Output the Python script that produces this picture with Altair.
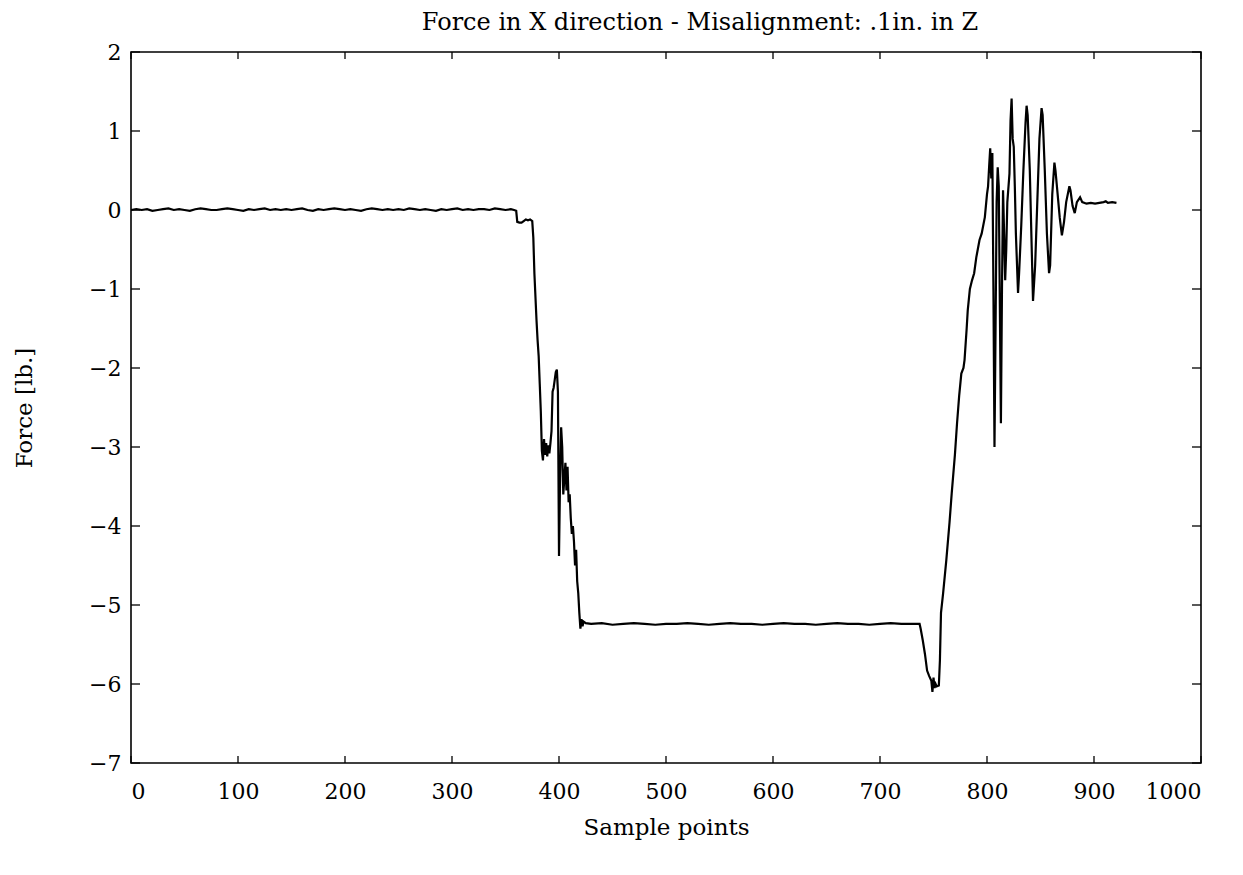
import altair as alt
import pandas as pd

# ---- data ----
flat0_x = list(range(0, 360, 5))
flat0_y = [0.00, 0.01, 0.00, 0.01, -0.01, 0.00, 0.01, 0.02, 0.00, 0.01,
           0.00, -0.01, 0.01, 0.02, 0.01, 0.00, 0.00, 0.01, 0.02, 0.01,
           0.00, -0.01, 0.01, 0.00, 0.01, 0.02, 0.00, 0.01, 0.00, 0.01,
           0.00, 0.01, 0.02, 0.00, -0.01, 0.01, 0.00, 0.01, 0.02, 0.01,
           0.00, 0.01, 0.00, -0.01, 0.01, 0.02, 0.01, 0.00, 0.01, 0.00,
           0.01, 0.00, 0.02, 0.01, 0.00, 0.01, 0.00, -0.01, 0.01, 0.00,
           0.01, 0.02, 0.00, 0.01, 0.00, 0.01, 0.01, 0.00, 0.02, 0.01,
           0.00, 0.01]

drop_x = [358, 360, 361, 363, 365, 367, 369, 371, 373, 375, 376, 377, 379, 380,
          381, 382, 383, 384, 385, 386, 387, 388, 389, 390, 391, 392, 393, 394,
          395, 396, 397, 398, 399, 400, 401, 402, 403, 404, 405, 406, 407, 408,
          409, 410, 411, 412, 413, 414, 415, 416, 417, 418, 419, 420, 421, 422,
          423, 425]
drop_y = [0.00, -0.01, -0.15, -0.16, -0.16, -0.14, -0.12, -0.13, -0.12, -0.14,
          -0.35, -0.80, -1.40, -1.65, -1.85, -2.20, -2.55, -3.05, -3.17, -2.90,
          -3.10, -2.95, -3.12, -2.98, -3.08, -2.95, -2.80, -2.30, -2.25, -2.15,
          -2.05, -2.02, -2.30, -4.38, -3.40, -2.75, -3.00, -3.60, -3.40, -3.20,
          -3.55, -3.25, -3.70, -3.60, -3.90, -4.10, -4.00, -4.20, -4.50, -4.30,
          -4.70, -4.85, -5.10, -5.30, -5.18, -5.27, -5.21, -5.23]

flat5_x = list(range(430, 736, 10))
flat5_y = [-5.24, -5.23, -5.25, -5.24, -5.23, -5.24, -5.25, -5.24, -5.24, -5.23,
           -5.24, -5.25, -5.24, -5.23, -5.24, -5.24, -5.25, -5.24, -5.23, -5.24,
           -5.24, -5.25, -5.24, -5.23, -5.24, -5.24, -5.25, -5.24, -5.23, -5.24,
           -5.24]

rise_x = [737, 738, 740, 742, 744, 746, 748, 749, 750, 751, 752, 753, 755, 756,
          757, 759, 762, 765, 767, 770, 772, 774, 776, 778, 779, 781, 782, 784,
          786, 788, 790, 793, 795, 798, 800, 801, 802, 803, 804, 805, 806, 807,
          808, 809, 810, 811, 812, 813, 814, 815, 816, 817, 818, 819, 821, 822,
          823, 824, 825, 826, 827, 829, 830, 832, 834, 836, 837, 838, 840, 842,
          843, 845, 847, 849, 851, 852, 854, 856, 858, 859, 861, 863, 864, 866,
          868, 870, 872, 874, 877, 878, 880, 882, 884, 887, 889, 893, 897, 901,
          905, 909, 911, 913, 917, 921]
rise_y = [-5.24, -5.30, -5.45, -5.62, -5.83, -5.90, -5.96, -6.10, -5.92, -6.05,
          -6.00, -6.03, -6.02, -5.70, -5.10, -4.85, -4.43, -3.95, -3.59, -3.10,
          -2.70, -2.35, -2.07, -2.00, -1.90, -1.50, -1.27, -1.00, -0.89, -0.80,
          -0.60, -0.38, -0.30, -0.09, 0.20, 0.30, 0.55, 0.78, 0.40, 0.72,
          -1.00, -3.00, -1.50, 0.10, 0.54, 0.30, -1.20, -2.70, -1.00, 0.25,
          -0.30, -0.89, -0.50, 0.10, 0.46, 1.13, 1.41, 0.90, 0.80, 0.30,
          -0.30, -1.05, -0.80, -0.20, 0.50, 1.10, 1.32, 1.20, 0.50, -0.60,
          -1.15, -0.70, 0.10, 0.90, 1.29, 1.20, 0.50, -0.30, -0.80, -0.70,
          0.20, 0.60, 0.50, 0.20, -0.10, -0.32, -0.15, 0.10, 0.30, 0.25,
          0.05, -0.04, 0.10, 0.16, 0.10, 0.08, 0.09, 0.08, 0.09, 0.10,
          0.11, 0.09, 0.10, 0.09]

x_ticks = [0, 100, 200, 300, 400, 500, 600, 700, 800, 900, 1000]
y_ticks = [-7, -6, -5, -4, -3, -2, -1, 0, 1, 2]

W, H = 1070, 711
FONT = "DejaVu Serif"

df = pd.DataFrame({
    "x": flat0_x + drop_x + flat5_x + rise_x,
    "y": flat0_y + drop_y + flat5_y + rise_y,
})
xt = pd.DataFrame({"x": x_ticks})
yt = pd.DataFrame({"y": y_ticks})

xs = alt.Scale(domain=[0, 1000], nice=False, zero=False)
ys = alt.Scale(domain=[-7, 2], nice=False, zero=False)

line = alt.Chart(df).mark_line(color="black", strokeWidth=2.2).encode(
    x=alt.X("x:Q", scale=xs, axis=alt.Axis(
        values=x_ticks, format="d", title="Sample points", labelPadding=18,
        labelFlush=True, titleX=W / 2, titleY=64, titleBaseline="middle")),
    y=alt.Y("y:Q", scale=ys, axis=alt.Axis(
        values=y_ticks, format="d", title="Force [lb.]", labelPadding=10,
        labelFlush=False, titleX=-107, titleY=H / 2, titleAngle=270,
        titleAlign="center", titleBaseline="middle")),
)

tk = dict(color="black", strokeWidth=1.3)
xb = alt.Chart(xt).mark_rule(**tk).encode(x=alt.X("x:Q", scale=xs), y=alt.value(H), y2=alt.value(H - 7))
xtp = alt.Chart(xt).mark_rule(**tk).encode(x=alt.X("x:Q", scale=xs), y=alt.value(0), y2=alt.value(7))
yl = alt.Chart(yt).mark_rule(**tk).encode(y=alt.Y("y:Q", scale=ys), x=alt.value(0), x2=alt.value(9))
yr = alt.Chart(yt).mark_rule(**tk).encode(y=alt.Y("y:Q", scale=ys), x=alt.value(W), x2=alt.value(W - 9))

chart = alt.layer(line, xb, xtp, yl, yr).properties(
    width=W, height=H,
    title=alt.TitleParams("Force in X direction - Misalignment: .1in. in Z",
                          font=FONT, fontSize=24, fontWeight="normal",
                          anchor="middle", dx=34, offset=6, color="black"),
    autosize=alt.AutoSizeParams(type="pad"),
    padding={"left": 5, "top": 3, "right": 5, "bottom": 5},
).configure_view(stroke="black", strokeWidth=1.6).configure_axis(
    domain=False, ticks=False, grid=False, labelFont=FONT, labelFontSize=22,
    labelFontWeight="normal", labelColor="black", titleFont=FONT,
    titleFontSize=23, titleFontWeight="normal", titleColor="black",
)

chart.save("out.html", embed_options={"renderer": "svg", "actions": False})
